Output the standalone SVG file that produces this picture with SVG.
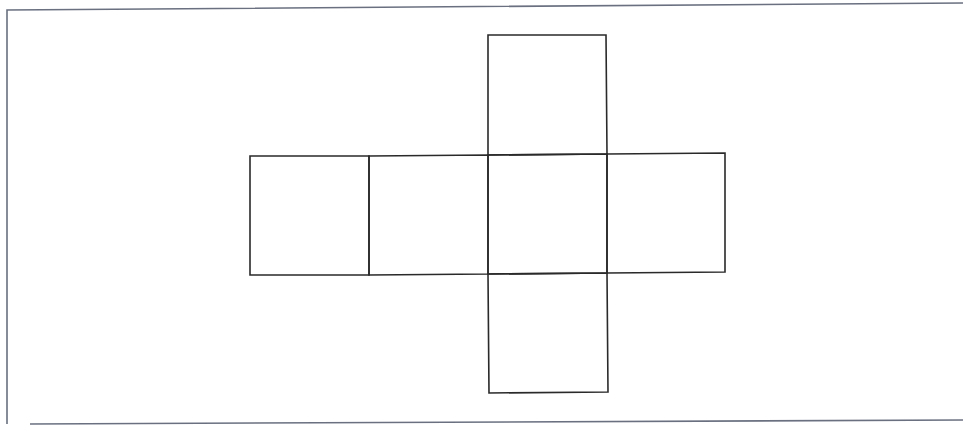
<svg xmlns="http://www.w3.org/2000/svg" width="963" height="425" viewBox="0 0 963 425">
<style>
.edge{fill:none;stroke:#2a2a2a;stroke-width:1.6;stroke-linecap:square}
.frame{fill:none;stroke:#6a7080;stroke-width:1.6}
</style>
<rect width="963" height="425" fill="#ffffff"/>
<g id="frame">
<polyline class="frame" points="963,3 7,10 7,424"/>
<line class="frame" x1="30" y1="424" x2="963" y2="420" stroke="#7a8090"/>
</g>
<g id="face-left"><polygon class="edge" points="250,156 369,156 369,275 250,275"/></g>
<g id="face-mid-left"><polygon class="edge" points="369,156 488,155 488,274 369,275"/></g>
<g id="face-top"><polygon class="edge" points="488,35 606,35 607,154 488,155"/></g>
<g id="face-center"><polygon class="edge" points="488,155 607,154 607,273 488,274"/></g>
<g id="face-right"><polygon class="edge" points="607,154 725,153 725,272 607,273"/></g>
<g id="face-bottom"><polygon class="edge" points="488,274 607,273 608,392 489,393"/></g>
<g id="connectors"></g>
</svg>
